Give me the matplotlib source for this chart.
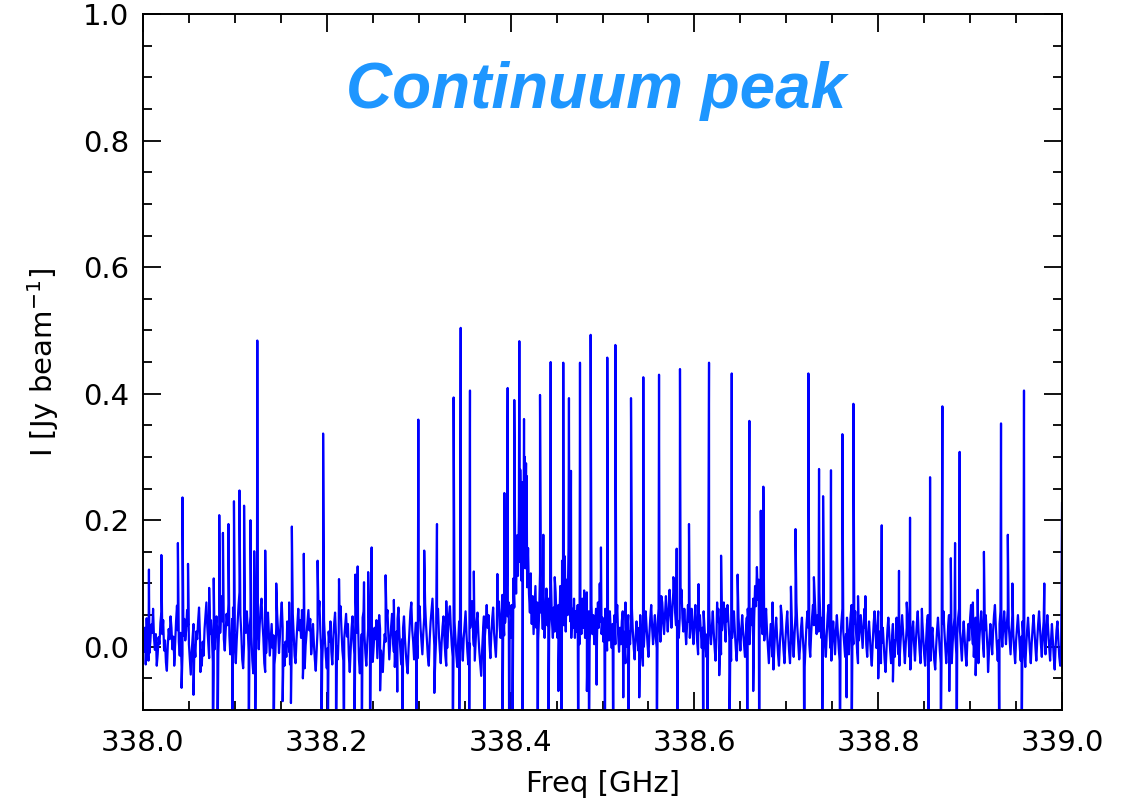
import numpy as np
import matplotlib.pyplot as plt
from matplotlib.ticker import MultipleLocator

# continuum-peak spectrum, intensities in mJy/beam
BASE_START = 338.0   # GHz
BASE_STEP = 0.001    # GHz, one channel
baseline_mjy = [
    12, -8, 30, 18, 45, 5, -22, -10, 8, 35, 22, 60, 14, -5, 20, -30, -12, 15, 4, 38,
    55, 20, 42, -6, 10, -25, -38, 2, 28, 12, 48, 30, -4, 16, -18, 6, 40, 65, 26, 8,
    -14, 22, -32, -12, 18, 44, 10, 26, 58, 34, 4, -20, -44, -8, 14, 36, 2, -16, 24, 12,
    40, 62, 18, -6, -30, 8, -14, 28, 50, 70, 32, 6, -18, 20, 42, 16, -24, -42, -4, 30,
    48, 14, -10, 36, 22, 58, 80, 40, 12, -6, 26, 52, 34, 68, 18, -12, 6, 44, 62, 24,
    -2, -26, 10, 38, 66, 86, 50, 20, -20, -34, 4, 40, 22, 56, 28, -8, 30, 48, 16, -22,
    -42, -6, 24, 8, 46, 30, -4, 34, 62, 76, 38, 14, -26, -40, -10, 26, 54, 18, -14, 12,
    36, -2, 18, -28, -12, 30, 52, 24, -10, 16, 46, 70, 30, 2, -30, 8, -16, 40, 22, -8,
    -28, 4, 28, 52, 20, -14, -26, 10, 34, 60, 26, 42, 14, 58, 32, -10, -34, 2, 20, 38,
    58, 26, 44, -12, 8, 36, 4, -20, -38, -4, 28, 52, 72, 24, -6, -24, 14, 42, 10, -16,
    -34, -2, 24, 8, 40, -8, -28, 12, 36, 54, 18, 0, -20, 22, 48, 64, 26, -6, -22, 14,
    32, 52, 16, 36, -14, -40, -4, 30, 48, 10, -12, 24, 54, 22, 40, -20, -42, -8, 20, 46,
    56, 18, -10, -30, 4, 28, 46, 64, 22, 38, -24, 0, 30, 12, 42, -18, 16, 50, 28, -6,
    -26, -40, -2, 20, 8, 44, 58, 18, -20, 6, 32, 52, 14, -8, -32, -2, 24, 44, 62, 20,
    -4, -28, 12, 30, 48, 14, -10, -28, -42, -2, 28, 56, 70, 26, 8, -20, 14, 38, 4, -18,
    42, 64, 30, 10, -12, 22, 46, 68, 34, 8, -16, -30, 12, 40, 58, 76, 32, 2, -22, 14,
    38, 60, 20, -6, -26, 8, 32, 48, 12, -14, -30, -2, 26, 50, 64, 28, 2, -16, 16, 40,
    12, -14, -32, 10, 40, 62, 24, 4, -22, 14, 34, 56, 20, -8, -28, 6, 30, 58, 72, 28,
    2, -22, 8, 40, 54, 18, -8, -28, -46, -6, 24, 48, 16, 36, 66, 30, 50, 6, -18, 20,
    44, 62, 22, 2, -16, 24, 52, 72, 34, 14, 54, 82, 44, 18, 38, 66, 96, 48, 70, 28,
    14, 66, 34, 108, 62, 148, 84, 176, 112, 206, 134, 236, 104, 196, 144, 226, 124, 186, 94, 156,
    84, 54, 116, 36, 80, 20, 56, 96, 30, 70, 10, 50, 116, 54, 86, 28, 66, 14, 56, 92,
    34, 76, 24, 60, 102, 40, 14, 62, 24, 86, 40, 14, 66, 30, 96, 50, 136, 70, 34, 72,
    24, 106, 50, 156, 74, 40, 14, 60, 30, 76, 14, 56, 24, 66, 34, 4, 56, 20, 76, 30,
    56, 14, 46, 86, 24, 56, 8, 40, 66, 20, 50, 4, 36, 60, 14, 70, 30, 100, 40, 20,
    46, 8, 36, 60, 20, -6, 40, 10, 56, 24, -2, 36, 14, 50, 4, 40, 66, 20, -8, 30,
    4, 40, 56, 24, -2, -26, 0, 26, 50, 24, 4, 40, 60, 24, -2, -20, 16, 40, 14, -6,
    30, 50, 14, -12, -30, 0, 30, 56, 30, 4, -16, 20, 46, 66, 30, 4, 30, 50, 14, -2,
    36, 60, 34, 8, 40, 70, 44, 20, 50, 80, 50, 24, 56, 90, 54, 30, 60, 86, 106, 54,
    34, 76, 40, 14, 46, 70, 90, 44, 24, 60, 30, 4, 36, 66, 40, 14, 46, 60, 24, 4,
    40, 66, 34, 8, -12, 26, 50, 24, -2, 30, 56, 30, 4, -16, 20, 46, 60, 24, 4, 30,
    56, 24, -2, -22, 14, 40, 60, 34, 8, -12, 26, 50, 70, 34, 8, 40, 66, 40, 14, -8,
    -22, 14, 40, 56, 24, -2, -22, 14, 46, 20, -6, 26, 50, 24, 4, -16, 20, 46, 60, 24,
    4, 36, 60, 34, 76, 44, 96, 64, 126, 74, 106, 54, 86, 40, 20, 46, 10, 40, 60, 24,
    -2, -26, 6, 36, 10, -16, -36, 0, 30, 46, 14, -12, -30, 6, 30, 50, 20, -6, -26, 10,
    36, 56, 20, -6, -26, 10, 40, 14, -16, 20, 50, 70, 30, 4, -20, 0, 30, 46, 14, -12,
    -32, 6, 36, 56, 30, 4, -16, 20, 46, 66, 34, 76, 44, 20, 50, 24, 86, 44, 14, 46,
    66, 30, 4, -16, 20, 50, 66, 24, -2, -22, 16, 40, 14, -12, 26, 50, 24, -2, -22, 16,
    40, 60, 24, 4, -16, 20, 46, 14, -12, 26, 50, 66, 30, 4, 36, 56, 20, -6, -26, 10,
    30, 50, 24, -2, 30, 60, 30, 4, -16, 20, 40, 14, -12, -30, 6, 36, 56, 24, -2, 30,
    56, 24, -2, -26, 6, 30, 4, -22, -40, -4, 26, 46, 20, -6, -26, 10, 36, 10, -16, 20,
    46, 14, -12, -30, 0, 26, 50, 24, -2, -26, 6, 30, 46, 14, -16, -36, 0, 26, 40, 4,
    -22, 10, 36, 56, 20, -6, -26, 16, 40, 14, -12, -30, 6, 36, 50, 20, -6, -22, 16, 30,
    0, -22, -36, 0, 26, 46, 20, -6, -26, 10, 36, 56, 24, 0, -26, 0, 30, 50, 20, -6,
    -26, 6, 30, 46, 14, -12, 20, 46, 60, 24, 0, -22, 16, 40, 14, -12, -30, 10, 36, 10,
    46, 66, 30, 4, -16, 20, 46, 20, -6, -26, 10, 36, 56, 30, 4, -16, 26, 50, 20, -6,
    -26, 10, 36, 10, -12, 26, 50, 66, 30, 4, -22, 10, 36, 56, 24, 0, 30, 56, 30, 4,
    36, 60, 34, 10, -12, 26, 50, 20, -6, -26, 10, 30, 50, 24, 0, -22, 16, 40, 14, -12,
    -32, 0, 26, 46, 20, -6, -26, 6, 30, 50, 24, 0, -22, 10, 36, 56, 30, 4, -16, 20,
    40, 14, -12, 26, 50, 24, 0, -22, 10, 36, 10, -16, -36, 0, 26, 40, 10, -16, -30, -2,
    227,
]

# emission line peaks
line_freq = [
    338.0065, 338.020, 338.038, 338.043, 338.049, 338.072, 338.077, 338.083,
    338.087, 338.093, 338.099, 338.105, 338.110, 338.117, 338.121, 338.1244,
    338.133, 338.145, 338.159, 338.162, 338.175, 338.190, 338.196, 338.2133,
    338.231, 338.2336, 338.2405, 338.245, 338.2488, 338.264, 338.273, 338.2996,
    338.306, 338.3199, 338.330, 338.338, 338.3457, 338.3558, 338.360, 338.3856,
    338.3932, 338.3968, 338.404, 338.4095, 338.4105, 338.4112, 338.412, 338.4128,
    338.4135, 338.4146, 338.4155, 338.4162, 338.4168, 338.4175, 338.422, 338.432,
    338.4356, 338.4436, 338.448, 338.4573, 338.459, 338.4635, 338.4657, 338.4755,
    338.480, 338.4871, 338.4983, 338.5052, 338.514, 338.525, 338.531, 338.5444,
    338.5615, 338.564, 338.577, 338.5807, 338.5843, 338.5941, 338.6045, 338.6159,
    338.6247, 338.629, 338.634, 338.6406, 338.647, 338.6598, 338.6665, 338.6722,
    338.675, 338.685, 338.694, 338.705, 338.710, 338.724, 338.730, 338.7356,
    338.740, 338.7486, 338.761, 338.773, 338.778, 338.786, 338.8038, 338.8226,
    338.831, 338.8346, 338.8475, 338.8564, 338.8698, 338.879, 338.8836, 338.8886,
    338.903, 338.9082, 338.915, 338.9336, 338.941, 338.946, 338.9586, 338.9807,
]
line_mjy = [
    122, 145, 164, 236, 131, 93, 108, 208,
    180, 194, 230, 247, 223, 200, 151, 484,
    152, 100, 70, 190, 147, 136, 337, 107,
    114, 127, 102, 118, 157, 113, 74, 359,
    152, 194, 72, 394, 504, 405, 119, 115,
    243, 409, 390, 483, 280, 150, 240, 260,
    180, 360, 300, 200, 290, 270, 80, 398,
    177, 450, 110, 449, 143, 393, 278, 449,
    89, 493, 157, 457, 477, 70, 393, 426,
    430, 80, 110, 155, 439, 194, 99, 449,
    70, 144, 60, 432, 114, 357, 80, 215,
    253, 70, 65, 95, 186, 432, 110, 281,
    238, 279, 336, 384, 80, 80, 192, 120,
    70, 204, 60, 268, 380, 140, 164, 308,
    70, 90, 150, 353, 177, 100, 405, 100,
]

# absorption dips
dip_freq = [
    338.003, 338.034, 338.042, 338.055, 338.0625, 338.076, 338.081, 338.0975,
    338.115, 338.122, 338.142, 338.152, 338.161, 338.174, 338.194, 338.201,
    338.210, 338.2187, 338.230, 338.238, 338.247, 338.258, 338.2767, 338.2825,
    338.2978, 338.317, 338.337, 338.344, 338.355, 338.3714, 338.391, 338.3985,
    338.402, 338.413, 338.4295, 338.441, 338.452, 338.4555, 338.4736, 338.483,
    338.4853, 338.4936, 338.5027, 338.5117, 338.5226, 338.528, 338.540, 338.559,
    338.5814, 338.6097, 338.614, 338.627, 338.638, 338.6576, 338.664, 338.6705,
    338.7196, 338.739, 338.7584, 338.7656, 338.771, 338.800, 338.816, 338.8546,
    338.868, 338.8773, 338.8854, 338.906, 338.9195, 338.9318, 338.956, 338.998,
]
dip_mjy = [
    -28, -30, -65, -76, -40, -200, -200, -200,
    -200, -200, -200, -86, -89, -50, -200, -200,
    -200, -200, -200, -200, -200, -69, -71, -200,
    -200, -73, -200, -200, -105, -200, -200, -200,
    -200, -200, -200, -200, -70, -200, -200, -70,
    -200, -60, -200, -200, -80, -200, -80, -200,
    -200, -200, -200, -45, -200, -200, -70, -200,
    -200, -200, -200, -80, -200, -50, -55, -200,
    -200, -70, -200, -45, -40, -200, -200, -30,
]

base_freq = BASE_START + BASE_STEP * np.arange(len(baseline_mjy))
freq = np.concatenate([base_freq, line_freq, dip_freq])
flux = np.concatenate([baseline_mjy, line_mjy, dip_mjy]) / 1000.0
order = np.argsort(freq, kind="stable")
freq, flux = freq[order], flux[order]

plt.rcParams["font.family"] = "DejaVu Sans"

fig = plt.figure(figsize=(11.32, 8.05), dpi=100)
ax = fig.add_axes([0.1263, 0.118, 0.8119, 0.8645])

ax.plot(freq, flux, color="#0000ff", lw=1.6)

ax.set_xlim(338.0, 339.0)
ax.set_ylim(-0.1, 1.0)
ax.xaxis.set_major_locator(MultipleLocator(0.2))
ax.xaxis.set_minor_locator(MultipleLocator(0.05))
ax.yaxis.set_major_locator(MultipleLocator(0.2))
ax.yaxis.set_minor_locator(MultipleLocator(0.05))
ax.xaxis.set_major_formatter(plt.FormatStrFormatter("%.1f"))
ax.yaxis.set_major_formatter(plt.FormatStrFormatter("%.1f"))

ax.tick_params(which="both", direction="in", top=True, right=True, width=1.3,
               labelsize=21)
ax.tick_params(which="major", length=13)
ax.tick_params(which="minor", length=6.5)
ax.tick_params(axis="x", pad=14)
ax.tick_params(axis="y", pad=10)
for s in ax.spines.values():
    s.set_linewidth(1.4)

ax.set_xlabel("Freq [GHz]", fontsize=21, labelpad=9)
ax.set_ylabel(r"I [Jy beam$^{-1}$]", fontsize=21, labelpad=16)

ax.text(0.493, 0.89, "Continuum peak", transform=ax.transAxes,
        ha="center", va="center", fontsize=46, color="#1e96ff",
        fontweight="bold", fontstyle="italic", family="Liberation Sans")

fig.savefig("out.png", dpi=100)
